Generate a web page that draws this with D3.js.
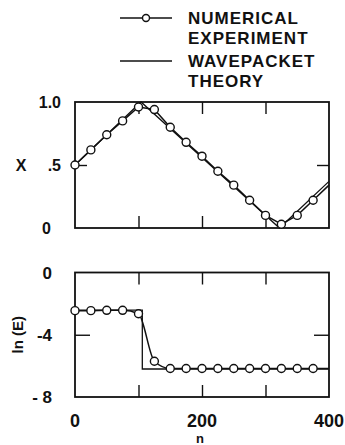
<!DOCTYPE html>
<html>
<head>
<meta charset="utf-8">
<script src="https://cdn.jsdelivr.net/npm/d3@7"></script>
<style>
  body { margin: 0; background: #fff; }
  text { font-family: "Liberation Sans", Arial, sans-serif; font-weight: bold; fill: #111; }
</style>
</head>
<body>
<div id="chart"></div>
<script>
// numerical experiment (circles every 25 steps)
const nExp = [0, 25, 50, 75, 100, 125, 150, 175, 200, 225, 250, 275, 300, 325, 350, 375];
const xExp = [0.50, 0.62, 0.74, 0.85, 0.96, 0.94, 0.80, 0.68, 0.57, 0.45, 0.34, 0.22, 0.10, 0.03, 0.10, 0.22];
const eExp = [-2.45, -2.45, -2.43, -2.43, -2.65, -5.7, -6.17, -6.17, -6.17, -6.17, -6.17, -6.17, -6.17, -6.17, -6.17, -6.17];
// line end at right edge (no marker)
const nEnd = 400, xEnd = 0.34, eEnd = -6.17;

// wavepacket theory
const nTheoryX = [0, 104, 322, 400];
const xTheory = [0.50, 1.00, 0.00, 0.37];
const nTheoryE = [0, 106, 106, 400];
const eTheory = [-2.42, -2.42, -6.2, -6.2];

const legendLabels = [["NUMERICAL", "EXPERIMENT"], ["WAVEPACKET", "THEORY"]];
const xTickLabels = [0, 200, 400];
const xTicks = [100, 200, 300];

const width = 345, height = 445;
const svg = d3.select("#chart").append("svg").attr("width", width).attr("height", height);

const x = d3.scaleLinear().domain([0, 400]).range([75, 329]);
const yTop = d3.scaleLinear().domain([0, 1]).range([228, 102]);
const yBot = d3.scaleLinear().domain([-8, 0]).range([397, 272.5]);

function frame(y) {
  const r = y.range();
  svg.append("rect")
    .attr("x", x(0)).attr("y", r[1])
    .attr("width", x(400) - x(0)).attr("height", r[0] - r[1])
    .attr("fill", "none").attr("stroke", "#111").attr("stroke-width", 1.8);
}

function ticks(y, yTickVals, tickLen) {
  const r = y.range();
  const g = svg.append("g").attr("stroke", "#111").attr("stroke-width", 1.4);
  const axes = [
    [d3.axisBottom(x).tickValues(xTicks).tickSize(-12), `translate(0,${r[0]})`],
    [d3.axisTop(x).tickValues(xTicks).tickSize(-12), `translate(0,${r[1]})`],
    [d3.axisLeft(y).tickValues(yTickVals).tickSize(-tickLen), `translate(${x(0)},0)`],
    [d3.axisRight(y).tickValues(yTickVals).tickSize(-tickLen), `translate(${x(400)},0)`]
  ];
  axes.forEach(([ax, tr]) => {
    const a = g.append("g").attr("transform", tr).call(ax.tickFormat(""));
    a.select(".domain").remove();
    a.selectAll("line").attr("stroke", "#111").attr("stroke-width", 1.4);
  });
}

function series(y, nArr, vArr, curve) {
  return d3.line().x((d, i) => x(nArr[i])).y((d, i) => y(vArr[i])).curve(curve || d3.curveLinear)(nArr);
}

// ---- top panel
frame(yTop);
ticks(yTop, [0.5], 12);

svg.append("path")
  .attr("d", series(yTop, nTheoryX, xTheory))
  .attr("fill", "none").attr("stroke", "#111").attr("stroke-width", 1.3);

const nLineX = nExp.concat([nEnd]);
svg.append("path")
  .attr("d", series(yTop, nLineX, xExp.concat([xEnd])))
  .attr("fill", "none").attr("stroke", "#111").attr("stroke-width", 1.5);

svg.append("g").selectAll("circle")
  .data(nExp).enter().append("circle")
  .attr("cx", d => x(d))
  .attr("cy", (d, i) => yTop(xExp[i]))
  .attr("r", 4)
  .attr("fill", "#fff").attr("stroke", "#111").attr("stroke-width", 1.4);

// top y labels
const topLabels = [[1, "1.0", 61], [0.5, ".5", 61], [0, "0", 51]];
svg.append("g").selectAll("text")
  .data(topLabels).enter().append("text")
  .attr("x", d => d[2]).attr("y", d => yTop(d[0]) + 6)
  .attr("text-anchor", "end").attr("font-size", 16)
  .text(d => d[1]);
svg.append("text").attr("x", 21).attr("y", yTop(0.5) + 6)
  .attr("text-anchor", "middle").attr("font-size", 16).text("X");

// ---- bottom panel
frame(yBot);
ticks(yBot, [-4], 15);

svg.append("path")
  .attr("d", series(yBot, nTheoryE, eTheory))
  .attr("fill", "none").attr("stroke", "#111").attr("stroke-width", 1.3);

svg.append("path")
  .attr("d", series(yBot, nLineX, eExp.concat([eEnd]), d3.curveMonotoneX))
  .attr("fill", "none").attr("stroke", "#111").attr("stroke-width", 1.5);

svg.append("g").selectAll("circle")
  .data(nExp).enter().append("circle")
  .attr("cx", d => x(d))
  .attr("cy", (d, i) => yBot(eExp[i]))
  .attr("r", 4)
  .attr("fill", "#fff").attr("stroke", "#111").attr("stroke-width", 1.4);

const botLabels = [[0, "0"], [-4, "-4"], [-8, "- 8"]];
svg.append("g").selectAll("text")
  .data(botLabels).enter().append("text")
  .attr("x", 52).attr("y", d => yBot(d[0]) + 6)
  .attr("text-anchor", "end").attr("font-size", 17)
  .text(d => d[1]);
svg.append("text")
  .attr("transform", `translate(23,${yBot(-4)}) rotate(-90)`)
  .attr("text-anchor", "middle").attr("font-size", 15).text("ln (E)");

svg.append("g").selectAll("text")
  .data(xTickLabels).enter().append("text")
  .attr("x", d => x(d)).attr("y", 427)
  .attr("text-anchor", "middle").attr("font-size", 18)
  .text(d => d);
svg.append("text").attr("x", 200).attr("y", 443)
  .attr("text-anchor", "middle").attr("font-size", 13).text("n");

// ---- legend
const lg = svg.append("g");
[18, 61].forEach((ly, i) => {
  lg.append("line").attr("x1", 120).attr("x2", 172).attr("y1", ly).attr("y2", ly)
    .attr("stroke", "#111").attr("stroke-width", i === 0 ? 1.5 : 1.3);
  if (i === 0) {
    lg.append("circle").attr("cx", 146).attr("cy", ly).attr("r", 3.5)
      .attr("fill", "#fff").attr("stroke", "#111").attr("stroke-width", 1.4);
  }
  legendLabels[i].forEach((t, j) => {
    lg.append("text").attr("x", 188).attr("y", ly + 6 + j * 19.5)
      .attr("font-size", 17).attr("letter-spacing", 1).text(t);
  });
});
</script>
</body>
</html>
